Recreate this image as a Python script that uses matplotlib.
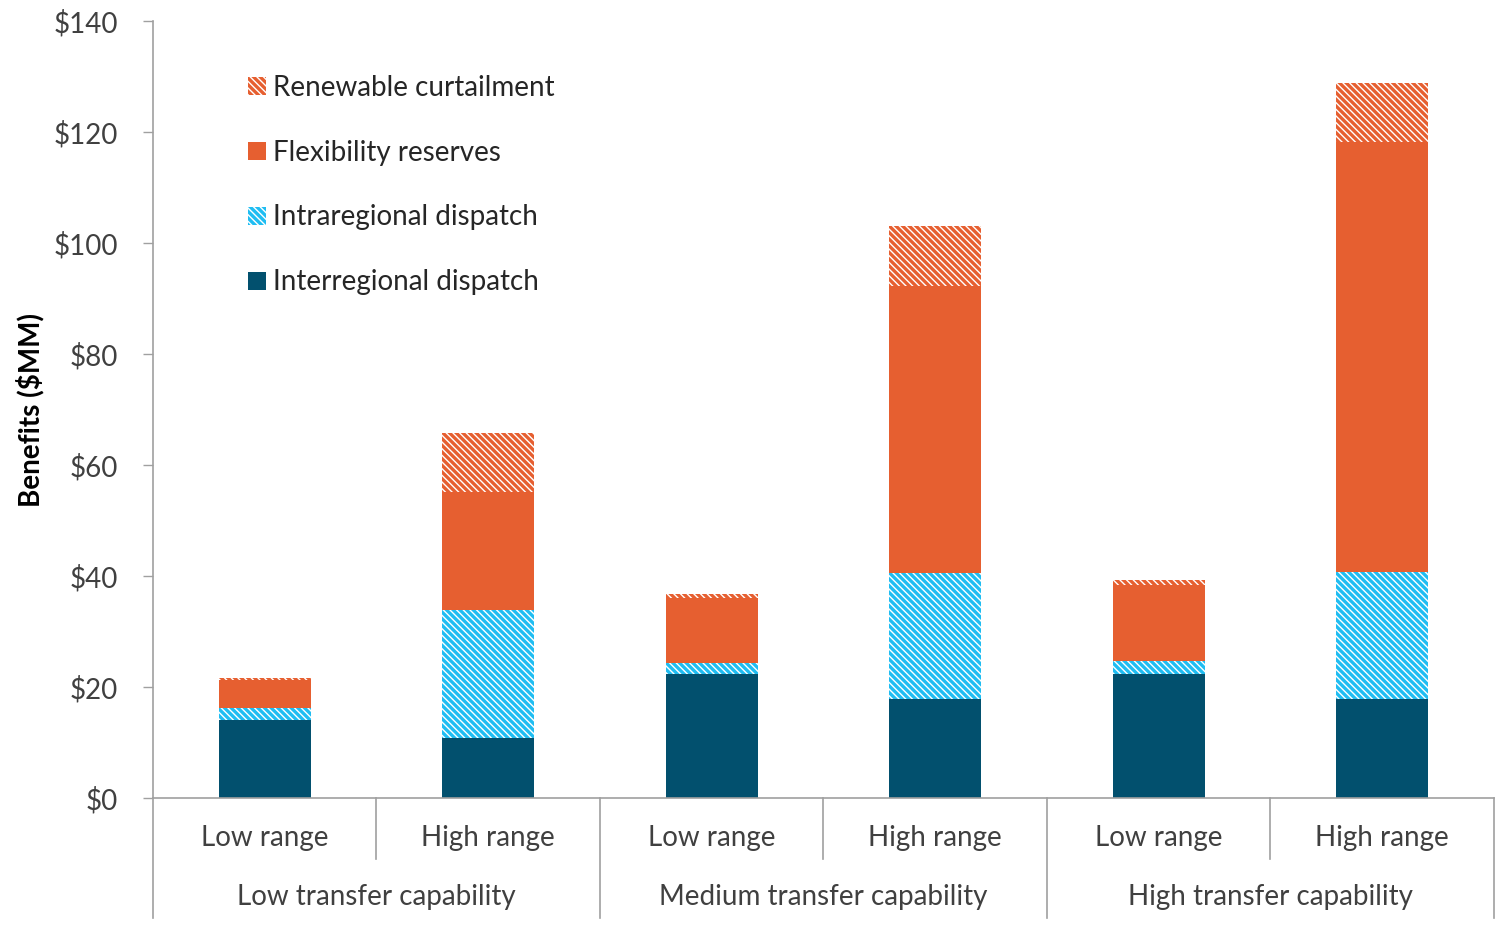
import matplotlib.pyplot as plt
import matplotlib.transforms as mtransforms
import numpy as np

plt.rcParams['font.family'] = ['Lato', 'DejaVu Sans']
plt.rcParams['hatch.linewidth'] = 1.0

# 数据
groups = ['Low transfer capability', 'Medium transfer capability', 'High transfer capability']
ranges = ['Low range', 'High range']
interregional = [14.0, 10.8, 22.3, 17.8, 22.3, 17.8]
intraregional = [2.2, 23.1, 2.0, 22.7, 2.4, 22.9]
flexibility = [5.1, 21.2, 11.7, 51.8, 13.7, 77.5]
curtailment = [0.4, 10.7, 0.8, 10.8, 0.9, 10.6]

c_inter = '#02506E'
c_intra = '#1FBDF2'
c_flex = '#E65F30'
hatch = '\\\\\\\\\\'
fs = 20

fig = plt.figure(figsize=(14.98, 9.3), dpi=100)
ax = fig.add_axes([0.1021, 0.1419, 0.8952, 0.8355])

x = np.arange(len(interregional))
w = 0.41
b1 = np.array(interregional)
b2 = b1 + np.array(intraregional)
b3 = b2 + np.array(flexibility)

p1 = ax.bar(x, interregional, w, color=c_inter, linewidth=0, label='Interregional dispatch')
p2 = ax.bar(x, intraregional, w, bottom=b1, color=c_intra, edgecolor='white', linewidth=0,
            hatch=hatch, label='Intraregional dispatch')
p3 = ax.bar(x, flexibility, w, bottom=b2, color=c_flex, linewidth=0, label='Flexibility reserves')
p4 = ax.bar(x, curtailment, w, bottom=b3, color=c_flex, edgecolor='white', linewidth=0,
            hatch=hatch, label='Renewable curtailment')

ax.set_xlim(-0.5, len(x) - 0.5)
ax.set_ylim(0, 140)
ax.set_yticks(range(0, 141, 20))
ax.set_yticklabels(['$%d' % v for v in range(0, 141, 20)])
ax.tick_params(axis='y', length=7, width=1, color='#a0a0a0', pad=18, labelsize=fs,
               labelcolor='#404040')
ax.set_xticks([])

for s in ['top', 'right']:
    ax.spines[s].set_visible(False)
for s in ['left', 'bottom']:
    ax.spines[s].set_color('#a0a0a0')
    ax.spines[s].set_linewidth(1.2)

ax.set_ylabel('Benefits ($MM)', fontsize=fs, fontweight='bold', labelpad=7)

# 两级x轴标签
trans = mtransforms.blended_transform_factory(ax.transData, ax.transAxes)
for i, xi in enumerate(x):
    ax.text(xi, -0.0515, ranges[i % 2], transform=trans, ha='center', va='center',
            fontsize=fs, color='#404040')
for g in range(len(groups)):
    ax.text(2 * g + 0.5, -0.127, groups[g], transform=trans, ha='center', va='center',
            fontsize=fs, color='#404040')
for g in range(len(groups)):
    ax.plot([2 * g + 0.5] * 2, [0, -0.078], transform=trans, color='#a0a0a0', lw=1.2,
            clip_on=False)
for xb in np.arange(-0.5, len(x), 2):
    ax.plot([xb] * 2, [0, -0.155], transform=trans, color='#a0a0a0', lw=1.2, clip_on=False)

leg = ax.legend(handles=[p4, p3, p2, p1], loc='upper left', bbox_to_anchor=(0.0712, 0.931),
                frameon=False, fontsize=fs, handlelength=0.62, handleheight=0.62,
                handletextpad=0.25, labelspacing=1.4, borderpad=0, borderaxespad=0,
                labelcolor='#262626')

fig.savefig('out.png', dpi=100, facecolor='white')
